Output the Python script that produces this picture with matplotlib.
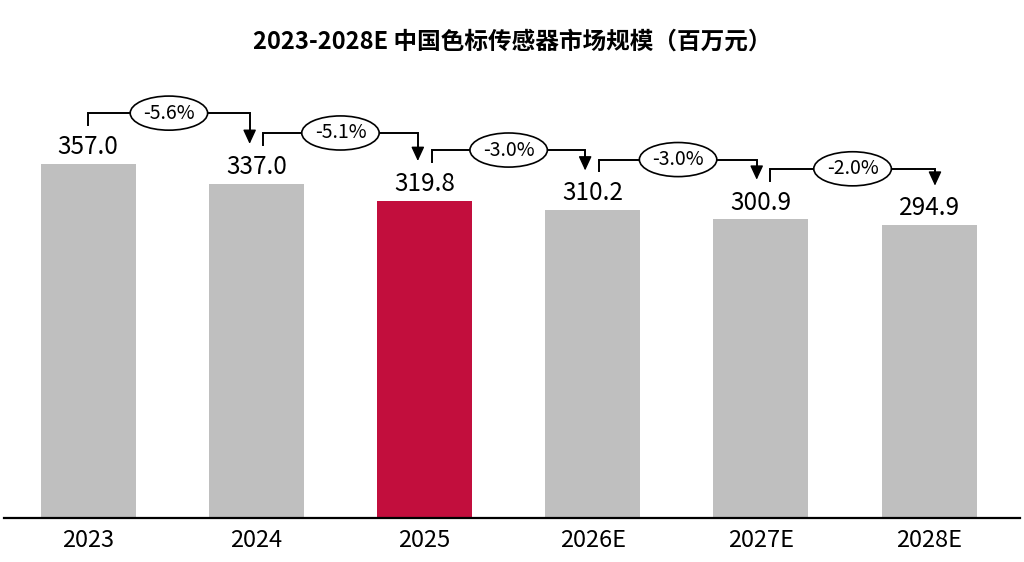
import matplotlib
matplotlib.use("Agg")
import matplotlib.pyplot as plt

plt.rcParams['font.family'] = ['Noto Sans CJK SC', 'DejaVu Sans']

categories = ["2023", "2024", "2025", "2026E", "2027E", "2028E"]
values = [357.0, 337.0, 319.8, 310.2, 300.9, 294.9]
growth_labels = ["-5.6%", "-5.1%", "-3.0%", "-3.0%", "-2.0%"]
title = "2023-2028E 中国色标传感器市场规模（百万元）"

gray = "#BFBFBF"
red = "#C20E3D"
colors = [gray, gray, red, gray, gray, gray]

fig = plt.figure(figsize=(10.24, 5.62), dpi=100)
ax = fig.add_axes([0.004, 0.0783, 0.992, 0.9217])
x = list(range(len(categories)))
ax.bar(x, values, width=0.565, color=colors, zorder=2)

ax.set_xlim(-0.5, 5.54)
ax.set_ylim(0, 522)
for s in ["top", "right", "left"]:
    ax.spines[s].set_visible(False)
ax.spines["bottom"].set_color("black")
ax.spines["bottom"].set_linewidth(1.6)
ax.set_yticks([])
ax.set_xticks(x)
ax.set_xticklabels(categories, fontsize=17)
ax.tick_params(axis="x", length=0, pad=8)

for xi, v in zip(x, values):
    ax.text(xi, v + 17, f"{v:.1f}", ha="center", va="center", fontsize=17.5, zorder=3)

left_off = [0.0, 0.04, 0.045, 0.04, 0.055]
right_off = [-0.04, -0.04, -0.045, -0.025, 0.035]
for i, g in enumerate(growth_labels):
    x0 = x[i] + left_off[i]
    x1 = x[i + 1] + right_off[i]
    yh = values[i] + 51
    yb = values[i] + 39
    yt = values[i + 1] + 40
    ax.plot([x0, x0, x1, x1], [yb, yh, yh, yt + 8], color="black", lw=1.4,
            solid_joinstyle="miter", zorder=3)
    ax.annotate("", xy=(x1, yt), xytext=(x1, yt + 14),
                arrowprops=dict(arrowstyle="-|>,head_length=1.08,head_width=0.5",
                                color="black", lw=1.0, shrinkA=0, shrinkB=0,
                                mutation_scale=8), zorder=3)
    ax.text((x0 + x1) / 2, yh, g, ha="center", va="center", fontsize=14, zorder=4,
            bbox=dict(boxstyle="ellipse,pad=0.08", fc="white", ec="black", lw=1.2))

fig.text(0.5, 1 - 42 / 562, title, ha="center", va="center", fontsize=17,
         fontweight="bold")

fig.savefig("out.png", dpi=100)
